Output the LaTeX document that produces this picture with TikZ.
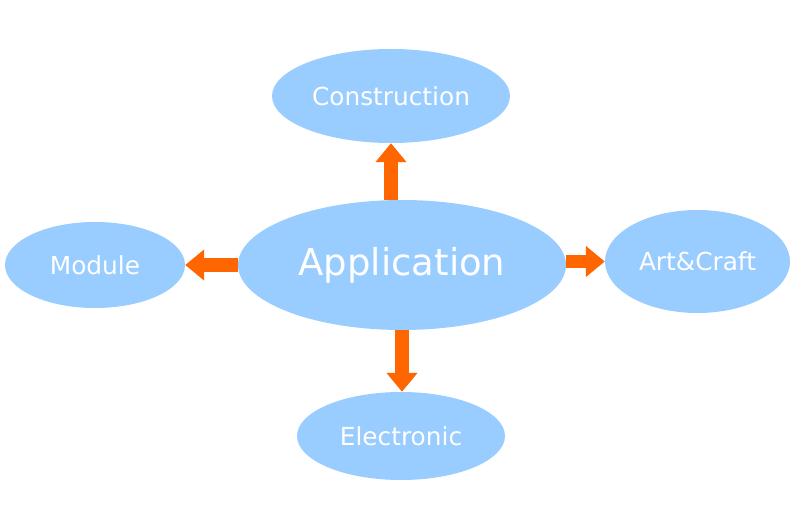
\documentclass[tikz,border=0pt]{standalone}
\usepackage{fontspec}
\setmainfont{DejaVu Sans}
\usetikzlibrary{positioning,arrows.meta,shapes.geometric}
\definecolor{blobblue}{HTML}{99CCFF}
\definecolor{flowora}{HTML}{FF6600}
\tikzset{
  blob/.style={ellipse,fill=blobblue,draw=none,inner sep=0pt,text=white,
    font=\fontsize{24.8}{28}\selectfont},
  bigblob/.style={blob,font=\fontsize{37}{42}\selectfont},
  flow/.style={-{Triangle[length=19pt,width=30pt]},draw=flowora,line width=13.5pt},
}
\begin{document}
\begin{tikzpicture}[x=1pt,y=-1pt]
  \useasboundingbox (0,0) rectangle (800,513);
  \node[bigblob,minimum width=328pt,minimum height=130pt] (app) at (402,265) {Application};
  \node[blob,minimum width=238pt,minimum height=94pt] (cons) at (391,96) {Construction};
  \node[blob,minimum width=180pt,minimum height=86pt] (mod) at (95,265) {Module};
  \node[blob,minimum width=185pt,minimum height=103pt] (art) at (697.5,261.5) {Art\&Craft};
  \node[blob,minimum width=208pt,minimum height=88pt] (elec) at (401,436) {Electronic};
  \draw[flow] (app.north -| cons.south) -- (cons.south);
  \draw[flow] (app.west) -- (mod.east);
  \draw[flow] (app.east |- art.west) -- (art.west);
  \draw[flow] (app.south) -- (app.south |- elec.north);
\end{tikzpicture}
\end{document}
